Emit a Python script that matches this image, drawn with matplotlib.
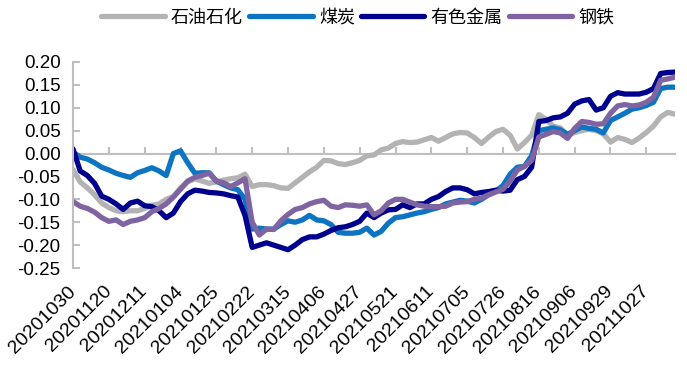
import matplotlib.pyplot as plt

plt.rcParams['font.family'] = ['Liberation Sans', 'Noto Sans CJK SC']
plt.rcParams['axes.unicode_minus'] = False

# trading-day labels, one every 15 trading days
tick_labels = ['20201030', '20201120', '20201211', '20210104', '20210125',
               '20210222', '20210315', '20210406', '20210427', '20210521',
               '20210611', '20210705', '20210726', '20210816', '20210906',
               '20210929', '20211027']
tick_pos = [15 * k for k in range(len(tick_labels))]

# values every 3 trading days
day_idx = list(range(0, 253, 3))

petro = [-0.035, -0.062, -0.075, -0.090, -0.108,
         -0.118, -0.125, -0.127, -0.125, -0.125,
         -0.120, -0.113, -0.110, -0.100, -0.094,
         -0.075, -0.062, -0.055, -0.060, -0.065,
         -0.062, -0.058, -0.055, -0.053, -0.045,
         -0.072, -0.068, -0.068, -0.070, -0.075,
         -0.076, -0.064, -0.052, -0.040, -0.030,
         -0.015, -0.016, -0.022, -0.024, -0.020,
         -0.015, -0.005, -0.003, 0.008, 0.012,
         0.022, 0.026, 0.024, 0.025, 0.030,
         0.035, 0.027, 0.035, 0.043, 0.046,
         0.045, 0.035, 0.022, 0.036, 0.048,
         0.053, 0.040, 0.010, 0.024, 0.040,
         0.085, 0.075, 0.060, 0.056, 0.040,
         0.046, 0.050, 0.053, 0.050, 0.043,
         0.025, 0.035, 0.031, 0.024, 0.034,
         0.046, 0.060, 0.080, 0.090, 0.086]

coal = [0.003, -0.008, -0.012, -0.020, -0.030,
        -0.036, -0.043, -0.048, -0.052, -0.042,
        -0.037, -0.031, -0.038, -0.048, 0.000,
        0.006, -0.020, -0.043, -0.042, -0.042,
        -0.060, -0.068, -0.075, -0.079, -0.100,
        -0.165, -0.163, -0.165, -0.165, -0.155,
        -0.147, -0.150, -0.145, -0.135, -0.145,
        -0.147, -0.155, -0.172, -0.174, -0.174,
        -0.172, -0.163, -0.178, -0.170, -0.152,
        -0.140, -0.138, -0.134, -0.130, -0.127,
        -0.122, -0.118, -0.110, -0.106, -0.102,
        -0.104, -0.108, -0.100, -0.090, -0.082,
        -0.070, -0.045, -0.030, -0.028, -0.005,
        0.050, 0.053, 0.056, 0.052, 0.042,
        0.050, 0.058, 0.055, 0.053, 0.045,
        0.072, 0.080, 0.088, 0.097, 0.100,
        0.105, 0.112, 0.142, 0.145, 0.145]

metals = [0.010, -0.038, -0.048, -0.065, -0.093,
          -0.100, -0.110, -0.122, -0.108, -0.104,
          -0.114, -0.116, -0.125, -0.140, -0.130,
          -0.105, -0.088, -0.080, -0.082, -0.085,
          -0.086, -0.088, -0.092, -0.095, -0.135,
          -0.205, -0.200, -0.195, -0.200, -0.205,
          -0.210, -0.200, -0.188, -0.182, -0.182,
          -0.176, -0.168, -0.162, -0.160, -0.155,
          -0.148, -0.130, -0.140, -0.130, -0.123,
          -0.122, -0.112, -0.118, -0.110, -0.110,
          -0.100, -0.094, -0.083, -0.075, -0.075,
          -0.079, -0.088, -0.085, -0.083, -0.080,
          -0.082, -0.080, -0.057, -0.050, -0.030,
          0.070, 0.072, 0.078, 0.080, 0.088,
          0.108, 0.115, 0.118, 0.095, 0.100,
          0.125, 0.133, 0.130, 0.130, 0.130,
          0.134, 0.142, 0.175, 0.177, 0.178]

steel = [-0.105, -0.115, -0.120, -0.128, -0.140,
         -0.148, -0.145, -0.155, -0.148, -0.145,
         -0.140, -0.127, -0.120, -0.110, -0.095,
         -0.078, -0.060, -0.052, -0.048, -0.043,
         -0.060, -0.064, -0.072, -0.064, -0.055,
         -0.150, -0.178, -0.165, -0.166, -0.147,
         -0.133, -0.122, -0.118, -0.110, -0.105,
         -0.102, -0.115, -0.118, -0.112, -0.113,
         -0.115, -0.112, -0.134, -0.125, -0.108,
         -0.100, -0.100, -0.106, -0.112, -0.115,
         -0.116, -0.116, -0.115, -0.108, -0.106,
         -0.105, -0.100, -0.097, -0.090, -0.084,
         -0.078, -0.060, -0.036, -0.028, -0.015,
         0.036, 0.042, 0.048, 0.045, 0.033,
         0.055, 0.070, 0.068, 0.064, 0.065,
         0.088, 0.104, 0.107, 0.104, 0.106,
         0.112, 0.123, 0.160, 0.163, 0.167]

names = ['石油石化', '煤炭', '有色金属', '钢铁']
colors = ['#B3B3B3', '#0C74C2', '#00008E', '#8064A2']
yticks = [-0.25, -0.20, -0.15, -0.10, -0.05, 0.00, 0.05, 0.10, 0.15, 0.20]
grey = '#BFBFBF'

fig = plt.figure(figsize=(6.87, 3.78), dpi=100)
ax = fig.add_axes([0.1063, 0.291, 0.8762, 0.545])

for vals, name, c in zip([petro, coal, metals, steel], names, colors):
    ax.plot(day_idx, vals, color=c, lw=3.8, label=name,
            solid_capstyle='round', solid_joinstyle='round')

ax.set_xlim(0, 252)
ax.set_ylim(-0.25, 0.20)

# y axis
ax.set_yticks(yticks, ['%.2f' % v for v in yticks])
ax.tick_params(axis='y', direction='in', length=5, width=1.5, color=grey,
               labelsize=13.5, pad=9)
for s in ['top', 'right', 'bottom']:
    ax.spines[s].set_visible(False)
ax.spines['left'].set_color(grey)
ax.spines['left'].set_linewidth(1.5)

# date labels along the bottom
ax.set_xticks(tick_pos, tick_labels, rotation=45, ha='right', va='center',
              rotation_mode='anchor')
ax.tick_params(axis='x', length=0, labelsize=14, pad=15)

# axis line with tick marks sitting at zero
zero = ax.secondary_xaxis(0, transform=ax.transData)
zero.set_xticks(tick_pos)
zero.tick_params(direction='in', length=5, width=1.5, color=grey, labelbottom=False)
zero.spines['bottom'].set_color(grey)
zero.spines['bottom'].set_linewidth(1.5)

fig.legend(loc='center', bbox_to_anchor=(358 / 687, 1 - 18 / 378), ncol=4,
           frameon=False, fontsize=13, handlelength=3.5, handletextpad=0.35,
           columnspacing=0.35)

fig.savefig('out.png', dpi=100)
